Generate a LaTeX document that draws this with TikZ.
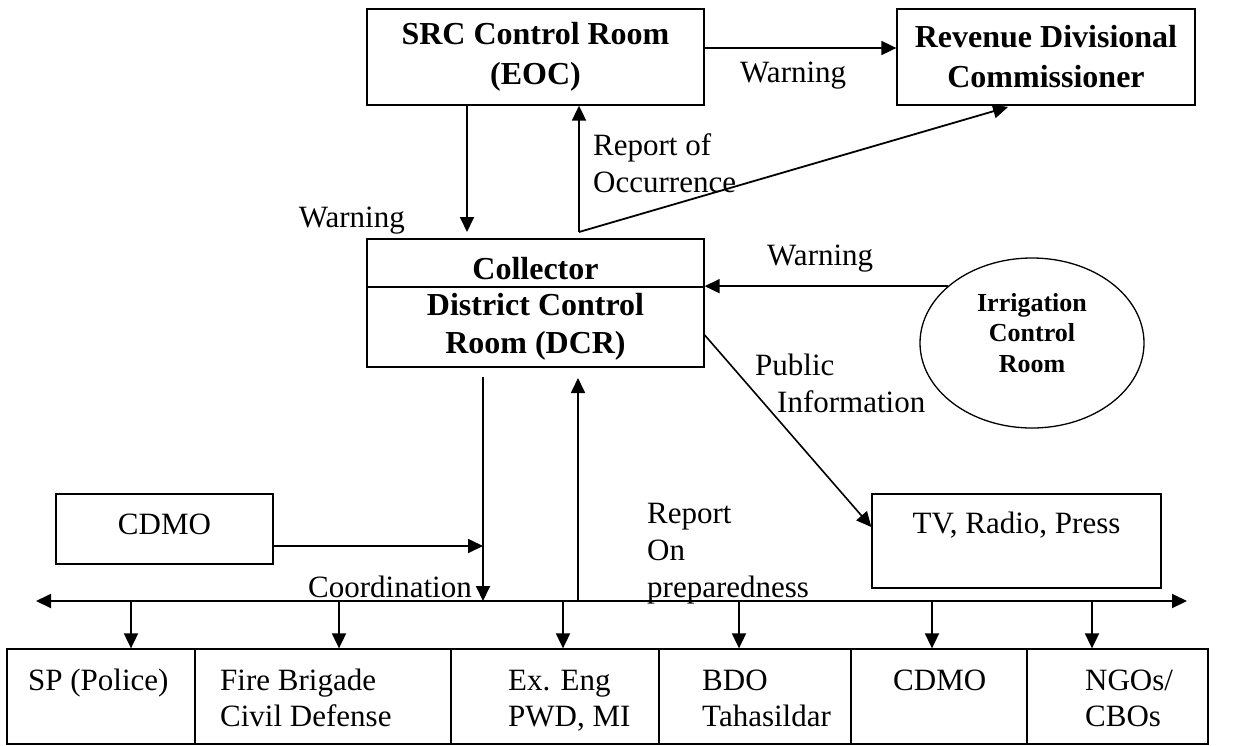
\documentclass[tikz,border=0pt]{standalone}
\usepackage{fontspec}
\setmainfont{Liberation Serif}
\usetikzlibrary{arrows.meta,shapes.geometric}
\begin{document}
\begin{tikzpicture}[x=1pt,y=-1pt,
  box/.style={draw, line width=1.3pt, inner sep=0pt},
  title/.style={font=\fontsize{32}{40}\selectfont\bfseries, align=center, inner sep=0pt},
  lbl/.style={font=\fontsize{31}{37}\selectfont, inner sep=0pt},
  arr/.style={line width=1.8pt, -{Triangle[length=15pt,width=14pt]}},
]
\useasboundingbox (0,0) rectangle (1234,745);

% --- top level: state control room and divisional commissioner
\node[box, title, minimum width=337, minimum height=96] (src) at (535.5,57) {SRC Control Room\\(EOC)};
\node[box, title, minimum width=298, minimum height=96] (rdc) at (1046,57) {Revenue Divisional\\Commissioner};

% --- district control room (two compartments)
\node[box, minimum width=337, minimum height=128] (dcr) at (535.5,303) {};
\draw[line width=1.3pt] ([yshift=16pt]dcr.west) -- ([yshift=16pt]dcr.east);
\node[title] (dcrA) at (535.5,269) {Collector};
\node[title, font=\fontsize{32}{38}\selectfont\bfseries] (dcrB) at (535.5,327) {District Control\\Room (DCR)};

% --- irrigation control room
\node[draw, line width=1.3pt, ellipse, minimum width=224, minimum height=170, inner sep=0pt] (irr) at (1032,343) {};
\node[font=\fontsize{26}{30.5}\selectfont\bfseries, align=center, inner sep=0pt] (irrt) at (1032,333) {Irrigation\\Control\\Room};

% --- media and CDMO
\node[box, minimum width=289, minimum height=94] (tv) at (1016.5,541) {};
\node[lbl] (tvt) at (1016.5,525) {TV, Radio, Press};
\node[box, minimum width=217, minimum height=70] (cdmo) at (164.5,529) {};
\node[lbl] (cdmot) at (164.5,524) {CDMO};

% --- line departments
\node[box, minimum width=188, minimum height=95] (c1) at (101,696.5) {};
\node[box, minimum width=256, minimum height=95] (c2) at (323,696.5) {};
\node[box, minimum width=208, minimum height=95] (c3) at (555,696.5) {};
\node[box, minimum width=192, minimum height=95] (c4) at (755,696.5) {};
\node[box, minimum width=176, minimum height=95] (c5) at (939,696.5) {};
\node[box, minimum width=181, minimum height=95] (c6) at (1117.5,696.5) {};

\node[lbl, anchor=base west] (t1a) at (28,690) {SP (Police)};
\node[lbl, anchor=base west] (t2a) at (220,690) {Fire Brigade};
\node[lbl, anchor=base west] (t2b) at (220,726) {Civil Defense};
\node[lbl, anchor=base west] (t3a) at (508,690) {Ex. Eng};
\node[lbl, anchor=base west] (t3b) at (508,726) {PWD, MI};
\node[lbl, anchor=base west] (t4a) at (702,690) {BDO};
\node[lbl, anchor=base west] (t4b) at (702,726) {Tahasildar};
\node[lbl, anchor=base west] (t5a) at (893,690) {CDMO};
\node[lbl, anchor=base west] (t6a) at (1085,690) {NGOs/};
\node[lbl, anchor=base west] (t6b) at (1085,726) {CBOs};

% --- coordination bus
\coordinate (axL) at (36,601);
\coordinate (axR) at (1187,601);
\draw[line width=1.8pt, {Triangle[length=15pt,width=14pt]}-{Triangle[length=15pt,width=14pt]}] (axL) -- (axR);
\foreach \x/\c in {131/c1, 339/c2, 563/c3, 739/c4, 932/c5, 1092/c6}
  \draw[arr] (\x,601) -- (\x,601 |- \c.north);

% --- connectors
\draw[arr] ([yshift=9pt]src.east) -- ([yshift=9pt]src.east -| rdc.west);
\coordinate (w1) at (467,232);
\draw[arr] (w1 |- src.south) -- (w1);
\coordinate (r1) at (579,232);
\coordinate (rdcIn) at (1008,107);
\draw[arr] (r1) -- (r1 |- src.south);
\draw[arr] (r1) -- (rdcIn);
\draw[arr] (irr.146) -- (irr.146 -| dcr.east);
\draw[arr, line width=1.6pt] ([yshift=-32pt]dcr.east) -- ([yshift=14pt]tv.west);

\coordinate (dnTop) at (483,377);
\coordinate (dnBot) at (483,601);
\draw[arr] (dnTop) -- (dnBot);
\coordinate (upBot) at (578,601);
\coordinate (upTop) at (578,378);
\draw[arr] (upBot) -- (upTop);
\draw[arr] ([yshift=-17pt]cdmo.east) -- ([yshift=-17pt]cdmo.east -| dnTop);

% --- connector labels
\node[lbl, anchor=base west] (wTop) at (740,82) {Warning};
\node[lbl, anchor=base west] (rep1) at (593,155) {Report of};
\node[lbl, anchor=base west] (rep2) at (593,192) {Occurrence};
\node[lbl, anchor=base east] (wLeft) at (405,227) {Warning};
\node[lbl, anchor=base west] (wIrr) at (767,265) {Warning};
\node[lbl, anchor=base west] (pub1) at (755,375) {Public};
\node[lbl, anchor=base west] (pub2) at (777,412) {Information};
\node[lbl, anchor=base east] (coord) at (472,597) {Coordination};
\node[lbl, anchor=base west] (prep1) at (647,523) {Report};
\node[lbl, anchor=base west] (prep2) at (647,560) {On};
\node[lbl, anchor=base west] (prep3) at (647,597) {preparedness};
\end{tikzpicture}
\end{document}
